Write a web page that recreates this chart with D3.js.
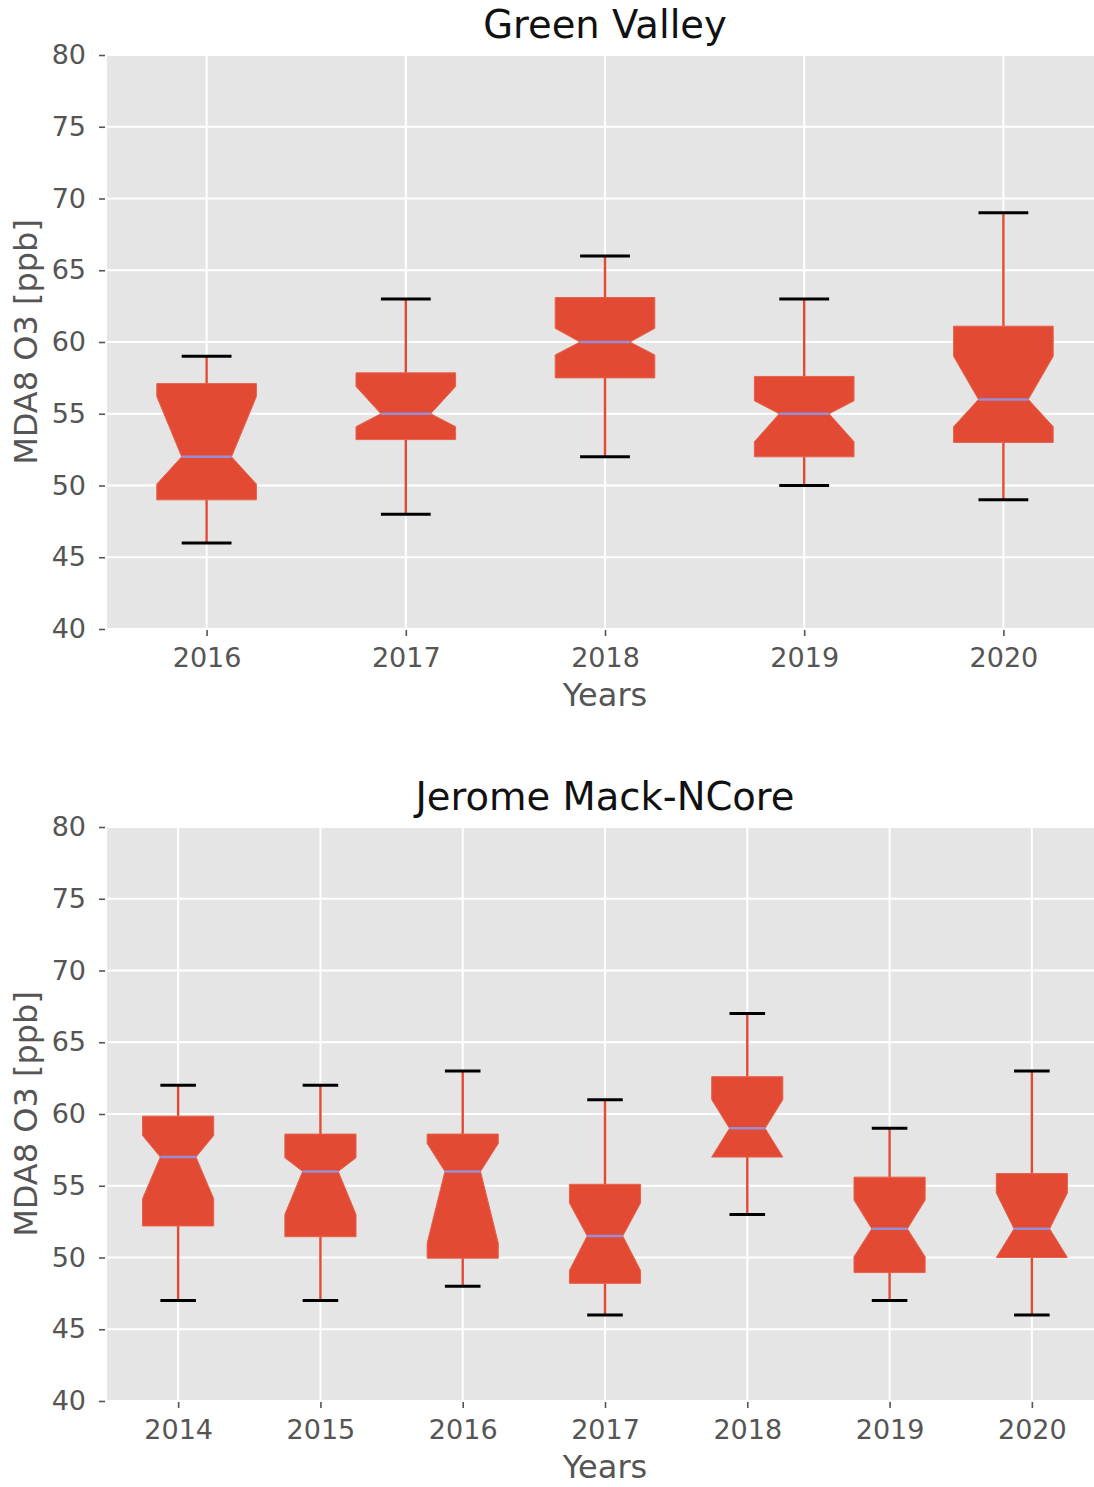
<!DOCTYPE html>
<html>
<head>
<meta charset="utf-8">
<script src="https://cdn.jsdelivr.net/npm/d3@7"></script>
<style>
  html, body { margin: 0; padding: 0; background: #ffffff; overflow: hidden; }
  svg { display: block; font-family: "DejaVu Sans", sans-serif; }
</style>
</head>
<body>
<svg id="chart" width="1094" height="1487"></svg>
<script>
// Green Valley: MDA8 O3 box statistics per year
const gvYears    = ["2016", "2017", "2018", "2019", "2020"];
const gvWhisLo   = [46, 48, 52, 50, 49];
const gvQ1       = [49.0, 53.2, 57.5, 52.0, 53.0];
const gvNotchLo  = [50.1, 54.1, 59.1, 53.05, 54.1];
const gvMedian   = [52, 55, 60, 55, 56];
const gvNotchHi  = [56.2, 56.9, 60.95, 55.9, 59.0];
const gvQ3       = [57.1, 57.85, 63.1, 57.6, 61.1];
const gvWhisHi   = [59, 63, 66, 63, 69];

// Jerome Mack-NCore: MDA8 O3 box statistics per year
const jmYears    = ["2014", "2015", "2016", "2017", "2018", "2019", "2020"];
const jmWhisLo   = [47, 47, 48, 46, 53, 47, 46];
const jmQ1       = [52.2, 51.45, 49.95, 48.2, 57.0, 48.95, 50.0];
const jmNotchLo  = [54.1, 53.0, 51.0, 49.1, 57.0, 50.05, 50.0];
const jmMedian   = [57, 56, 56, 51.5, 59, 52, 52];
const jmNotchHi  = [58.5, 56.95, 57.95, 53.8, 61.0, 54.0, 54.5];
const jmQ3       = [59.85, 58.6, 58.6, 55.1, 62.6, 55.6, 55.85];
const jmWhisHi   = [62, 62, 63, 61, 67, 59, 63];

const yTicks = [40, 45, 50, 55, 60, 65, 70, 75, 80];

const svg = d3.select("#chart");
const plotLeft = 107, plotRight = 1103;
const boxColor = "#E24A33", medianColor = "#988ED5", textColor = "#555555";

function panel(top, bottom, title, years, wlo, q1, nlo, med, nhi, q3, whi) {
  const n = years.length;
  const x = d3.scaleLinear().domain([-0.5, n - 0.5]).range([plotLeft, plotRight]);
  const y = d3.scaleLinear().domain([40, 80]).range([bottom, top]);
  const g = svg.append("g");

  g.append("rect")
    .attr("x", plotLeft).attr("y", top)
    .attr("width", plotRight - plotLeft).attr("height", bottom - top)
    .attr("fill", "#E5E5E5");

  // grid
  g.append("g").selectAll("line").data(yTicks).join("line")
    .attr("x1", plotLeft).attr("x2", plotRight)
    .attr("y1", d => y(d)).attr("y2", d => y(d))
    .attr("stroke", "#ffffff").attr("stroke-width", 2);
  g.append("g").selectAll("line").data(d3.range(n)).join("line")
    .attr("x1", d => x(d)).attr("x2", d => x(d))
    .attr("y1", top).attr("y2", bottom)
    .attr("stroke", "#ffffff").attr("stroke-width", 2);

  // axes
  const yAxis = d3.axisLeft(y).tickValues(yTicks).tickSize(6).tickPadding(13);
  const ya = g.append("g").attr("transform", `translate(${plotLeft - 2},0)`).call(yAxis);
  const xAxis = d3.axisBottom(x).tickValues(d3.range(n)).tickFormat(i => years[i]).tickSize(6).tickPadding(12);
  const xa = g.append("g").attr("transform", `translate(0,${bottom + 1})`).call(xAxis);
  [ya, xa].forEach(a => {
    a.select(".domain").remove();
    a.selectAll(".tick line").attr("stroke", textColor).attr("stroke-width", 1.6);
    a.selectAll(".tick text").attr("fill", textColor).style("font-size", "27px")
      .style("font-family", "DejaVu Sans");
  });

  const bw = (x(1) - x(0)) * 0.5;   // box width
  const half = bw / 2;
  const idx = d3.range(n);

  // whiskers
  g.append("g").selectAll("line").data(idx).join("line")
    .attr("x1", i => x(i)).attr("x2", i => x(i))
    .attr("y1", i => y(q1[i])).attr("y2", i => y(wlo[i]))
    .attr("stroke", boxColor).attr("stroke-width", 2.4);
  g.append("g").selectAll("line").data(idx).join("line")
    .attr("x1", i => x(i)).attr("x2", i => x(i))
    .attr("y1", i => y(q3[i])).attr("y2", i => y(whi[i]))
    .attr("stroke", boxColor).attr("stroke-width", 2.4);

  // caps
  g.append("g").selectAll("line").data(idx.flatMap(i => [[i, wlo[i]], [i, whi[i]]])).join("line")
    .attr("x1", d => x(d[0]) - half / 2).attr("x2", d => x(d[0]) + half / 2)
    .attr("y1", d => y(d[1])).attr("y2", d => y(d[1]))
    .attr("stroke", "#000000").attr("stroke-width", 3);

  // notched boxes
  g.append("g").selectAll("path").data(idx).join("path")
    .attr("d", i => {
      const c = x(i), l = c - half, r = c + half, cl = c - half / 2, cr = c + half / 2;
      const pts = [
        [l, y(q1[i])], [r, y(q1[i])], [r, y(nlo[i])], [cr, y(med[i])], [r, y(nhi[i])],
        [r, y(q3[i])], [l, y(q3[i])], [l, y(nhi[i])], [cl, y(med[i])], [l, y(nlo[i])]
      ];
      return d3.line()(pts) + "Z";
    })
    .attr("fill", boxColor).attr("stroke", "#E8604A").attr("stroke-width", 1);

  // medians
  g.append("g").selectAll("line").data(idx).join("line")
    .attr("x1", i => x(i) - half / 2).attr("x2", i => x(i) + half / 2)
    .attr("y1", i => y(med[i])).attr("y2", i => y(med[i]))
    .attr("stroke", medianColor).attr("stroke-width", 2.5);

  // labels
  g.append("text").attr("x", (plotLeft + plotRight) / 2).attr("y", top - 17)
    .attr("text-anchor", "middle").attr("fill", "#111111")
    .style("font-size", "38.5px").text(title);
  g.append("text").attr("x", (plotLeft + plotRight) / 2).attr("y", bottom + 77)
    .attr("text-anchor", "middle").attr("fill", textColor)
    .style("font-size", "32px").text("Years");
  g.append("text")
    .attr("transform", `translate(37,${(top + bottom) / 2}) rotate(-90)`)
    .attr("text-anchor", "middle").attr("fill", textColor)
    .style("font-size", "32px").text("MDA8 O3 [ppb]");
}

panel(55, 629, "Green Valley", gvYears, gvWhisLo, gvQ1, gvNotchLo, gvMedian, gvNotchHi, gvQ3, gvWhisHi);
panel(827, 1401, "Jerome Mack-NCore", jmYears, jmWhisLo, jmQ1, jmNotchLo, jmMedian, jmNotchHi, jmQ3, jmWhisHi);
</script>
</body>
</html>
